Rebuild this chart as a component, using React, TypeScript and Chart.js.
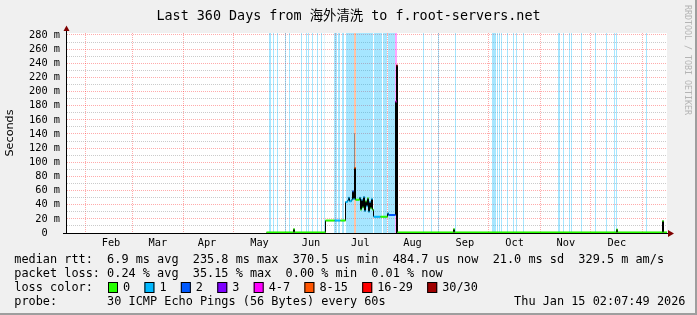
import React, { useEffect, useRef } from 'react';
import { Chart, registerables } from 'chart.js';

Chart.register(...registerables);

// ---------------- data ----------------
const TITLE = 'Last 360 Days from 海外清洗 to f.root-servers.net';
const Y_TITLE = 'Seconds';
const WATERMARK = 'RRDTOOL / TOBI OETIKER';

// x axis: days since start of the 360-day window
const X_MAX_DAYS = 360;
const monthStartDays = [11, 39, 70, 100, 131, 161, 192, 223, 253, 284, 314, 345];
const monthLabels = ['Feb', 'Mar', 'Apr', 'May', 'Jun', 'Jul', 'Aug', 'Sep', 'Oct', 'Nov', 'Dec'];
const monthLabelDays = [26.4, 54.5, 84, 115.5, 146.4, 176, 207.3, 238.7, 268.6, 299.3, 329.9];

// y axis (milliseconds)
const Y_MAX_MS = 282.8;
const yTickValues = [0, 10, 20, 30, 40, 50, 60, 70, 80, 90, 100, 110, 120, 130, 140, 150, 160, 170, 180, 190, 200, 210, 220, 230, 240, 250, 260, 270, 280];

// loss classes
const lossLabels = ['0', '1', '2', '3', '4-7', '8-15', '16-29', '30/30'];
const lossColors = ['#26ff00', '#00b8ff', '#0059ff', '#7e00ff', '#ff00ff', '#ff5500', '#ff0000', '#a00000'];

// loss background stripes (start day, width in days, loss class)
const stripeStart = [121.2, 123.6, 126.0, 130.8, 133.2, 140.4, 143.4, 144.6, 147.0, 150.0, 152.4, 154.2, 160.2, 162.6, 165.0, 167.4, 172.2, 173.4, 184.2, 189.6, 192.6, 196.8, 213.6, 218.4, 222.6, 232.8, 255.0, 258.0, 259.2, 260.4, 264.0, 267.6, 269.4, 273.6, 294.6, 297.6, 301.2, 302.4, 308.4, 316.8, 323.4, 328.2, 329.4, 347.4];
const stripeWidth = [1.2, 0.6, 0.6, 0.6, 0.6, 0.6, 0.6, 0.6, 0.6, 0.6, 0.6, 0.6, 1.8, 1.2, 1.2, 4.8, 1.2, 10.2, 4.8, 2.4, 4.2, 1.2, 0.6, 0.6, 0.6, 0.6, 2.4, 0.6, 0.6, 0.6, 0.6, 0.6, 0.6, 0.6, 1.2, 0.6, 0.6, 0.6, 0.6, 0.6, 0.6, 0.6, 0.6, 0.6];
const stripeLoss = [1, 1, 1, 1, 1, 1, 1, 1, 1, 1, 1, 1, 1, 1, 1, 1, 5, 1, 1, 1, 1, 4, 1, 1, 1, 1, 1, 1, 1, 1, 1, 1, 1, 1, 1, 1, 1, 1, 1, 1, 1, 1, 1, 1];

// median rtt (value holds from this day until the next day)
const rttDay = [119.7, 135.9, 136.5, 155.1, 160.5, 164.1, 167.1, 168.3, 168.9, 169.5, 170.7, 171.3, 171.9, 172.5, 173.1, 175.5, 176.1, 176.7, 177.3, 177.9, 178.5, 179.1, 179.7, 180.3, 180.9, 181.5, 182.1, 182.7, 183.3, 183.9, 188.1, 192.3, 192.9, 197.1, 197.7, 198.3, 231.9, 232.5, 329.7, 330.3, 357.3, 357.9, 360];
const rttMs = [0.8, 5.5, 0.8, 17.5, 17.5, 17.5, 44, 46, 50, 45, 47, 59, 48, 92, 47, 50, 33, 47, 36, 51, 31, 45, 38, 49, 30, 44, 35, 48, 33, 23, 23, 28, 25.5, 186, 237, 0.8, 5.5, 0.8, 5, 0.8, 17, 0.8, 0.8];
const rttLoss = [0, 0, 0, 0, 1, 0, 1, 1, 1, 1, 1, 2, 1, 5, 0, 1, 0, 1, 0, 1, 1, 0, 1, 0, 1, 1, 0, 1, 0, 1, 0, 1, 2, 4, 7, 0, 0, 0, 0, 0, 0, 0, 0];

// smoke (spread of individual pings)
const smokeDay = [172.5, 197.7];
const smokeLow = [92, 0];
const smokeHigh = [141, 237];

// legend text
const statsRtt = 'median rtt:  6.9 ms avg  235.8 ms max  370.5 us min  484.7 us now  21.0 ms sd  329.5 m am/s';
const statsLoss = 'packet loss: 0.24 % avg  35.15 % max  0.00 % min  0.01 % now';
const lossColorLabel = 'loss color:';
const probeLabel = 'probe:';
const probeText = '30 ICMP Echo Pings (56 Bytes) every 60s';
const stampText = 'Thu Jan 15 02:07:49 2026';

// ---------------- styles ----------------
const smokeColors = ['#8a8a8a', '#000000'];
const MGRID = 'rgba(255,0,0,0.33)';
const GRID = 'rgba(140,140,140,0.45)';
const MONO = '"DejaVu Sans Mono", monospace';
const CW = 7.14; // legend char advance
const LX = 14.3; // legend left

function hexToRgba(hex: string, a: number) {
  const n = parseInt(hex.slice(1), 16);
  return `rgba(${(n >> 16) & 255},${(n >> 8) & 255},${n & 255},${a})`;
}

function buildDatasets() {
  const ds: any[] = [];
  // loss stripes
  for (let level = 0; level < lossColors.length; level++) {
    const data: any[] = [];
    stripeStart.forEach((s, i) => {
      if (stripeLoss[i] !== level) return;
      const e = s + stripeWidth[i];
      data.push({ x: s, y: 400 }, { x: e, y: 400 }, { x: e, y: null });
    });
    if (!data.length) continue;
    ds.push({
      data, fill: 'origin', backgroundColor: hexToRgba(lossColors[level], 0.35),
      borderWidth: 0, pointRadius: 0, order: 10, spanGaps: false,
    });
  }
  // smoke
  smokeDay.forEach((d, i) => {
    ds.push({
      data: [{ x: d, y: smokeLow[i] }, { x: d, y: smokeHigh[i] }],
      borderColor: smokeColors[i], borderWidth: 1, pointRadius: 0, fill: false, order: 3,
    });
  });
  // black median stepped line
  ds.push({
    data: rttDay.map((d, i) => ({ x: d, y: rttMs[i] })),
    stepped: true, borderColor: '#000000', borderWidth: 1, pointRadius: 0, fill: false, order: 2,
  });
  // colored horizontal median segments by loss class
  for (let level = 0; level < lossColors.length; level++) {
    const data: any[] = [];
    for (let i = 0; i < rttDay.length - 1; i++) {
      if (rttLoss[i] !== level) continue;
      data.push({ x: rttDay[i], y: rttMs[i] }, { x: rttDay[i + 1], y: rttMs[i] }, { x: rttDay[i + 1], y: null });
    }
    if (!data.length) continue;
    ds.push({
      data, borderColor: lossColors[level], borderWidth: 2, pointRadius: 0, fill: false,
      order: 1, spanGaps: false, borderCapStyle: 'butt',
    });
  }
  return ds;
}

function drawMono(ctx: CanvasRenderingContext2D, s: string, x0: number, y: number) {
  for (let i = 0; i < s.length; i++) {
    const ch = s[i];
    if (ch !== ' ') ctx.fillText(ch, x0 + i * CW, y);
  }
}

const rrdPlugin = {
  id: 'rrdLook',
  beforeDraw(chart: any) {
    const { ctx, width, height, chartArea: a } = chart;
    ctx.save();
    ctx.fillStyle = '#f0f0f0';
    ctx.fillRect(0, 0, width, height);
    ctx.fillStyle = '#9e9e9e';
    ctx.fillRect(0, height - 2, width, 2);
    ctx.fillRect(width - 2, 0, 2, height);
    ctx.fillStyle = '#ffffff';
    ctx.fillRect(a.left, a.top, a.right - a.left, a.bottom - a.top);
    ctx.restore();
  },
  afterDatasetsDraw(chart: any) {
    const { ctx, chartArea: a } = chart;
    ctx.save();
    ctx.fillStyle = '#000000';
    // x axis
    ctx.fillRect(a.left - 4, a.bottom, a.right - a.left + 5, 1);
    // y axis
    ctx.fillRect(a.left - 1, a.top - 3, 1, a.bottom - a.top + 4);
    ctx.fillStyle = '#7f0000';
    ctx.beginPath();
    ctx.moveTo(a.right + 1, a.bottom - 3);
    ctx.lineTo(a.right + 7, a.bottom + 0.5);
    ctx.lineTo(a.right + 1, a.bottom + 4);
    ctx.closePath();
    ctx.fill();
    ctx.beginPath();
    ctx.moveTo(a.left - 3.5, a.top - 2);
    ctx.lineTo(a.left - 0.5, a.top - 7.5);
    ctx.lineTo(a.left + 2.5, a.top - 2);
    ctx.closePath();
    ctx.fill();
    ctx.restore();
  },
  afterDraw(chart: any) {
    const { ctx } = chart;
    ctx.save();
    ctx.fillStyle = '#000000';
    ctx.textBaseline = 'alphabetic';
    // title
    ctx.font = `13.4px ${'"DejaVu Sans Mono", "Noto Sans CJK SC", monospace'}`;
    ctx.textAlign = 'center';
    ctx.fillText(TITLE, 348.5, 20);
    // legend
    ctx.textAlign = 'left';
    ctx.font = `11.86px ${MONO}`;
    drawMono(ctx, statsRtt, LX, 263);
    drawMono(ctx, statsLoss, LX, 277);
    drawMono(ctx, lossColorLabel, LX, 291);
    let x = 108;
    lossLabels.forEach((lab, i) => {
      ctx.fillStyle = lossColors[i];
      ctx.fillRect(x, 282, 10, 11);
      ctx.strokeStyle = '#000000';
      ctx.lineWidth = 1;
      ctx.strokeRect(x + 0.5, 282.5, 9, 10);
      ctx.fillStyle = '#000000';
      drawMono(ctx, lab, x + 15, 291);
      x = x + 15 + (lab.length + 2) * CW;
    });
    drawMono(ctx, probeLabel, LX, 305);
    drawMono(ctx, probeText, LX + 13 * CW, 305);
    drawMono(ctx, stampText, LX + 70 * CW, 305);
    // watermark
    ctx.fillStyle = '#b4b4b4';
    ctx.font = `8.3px ${MONO}`;
    ctx.translate(687.5, 5);
    ctx.rotate(Math.PI / 2);
    ctx.textBaseline = 'middle';
    ctx.fillText(WATERMARK, 0, 0);
    ctx.restore();
  },
};

export default function App() {
  const ref = useRef<HTMLCanvasElement>(null);
  useEffect(() => {
    const canvas = ref.current;
    if (!canvas) return;
    const tickFont = { family: 'DejaVu Sans Mono', size: 10.3 };
    const chart = new Chart(canvas, {
      type: 'line',
      data: { datasets: buildDatasets() },
      options: {
        animation: false,
        responsive: false,
        devicePixelRatio: 1,
        layout: { padding: { left: 0, top: 33, right: 30, bottom: 0 } },
        plugins: { legend: { display: false }, tooltip: { enabled: false }, title: { display: false } },
        elements: { point: { radius: 0 }, line: { tension: 0 } },
        scales: {
          x: {
            type: 'linear', min: 0, max: X_MAX_DAYS, position: 'bottom',
            afterBuildTicks: (scale: any) => {
              const vals = [...monthStartDays, ...monthLabelDays].sort((p, q) => p - q);
              scale.ticks = vals.map((v) => ({ value: v }));
            },
            afterFit: (scale: any) => { scale.height = 82; },
            grid: {
              drawTicks: false,
              lineWidth: 1,
              color: (ctx: any) => (ctx.tick && monthStartDays.includes(ctx.tick.value) ? MGRID : 'rgba(0,0,0,0)'),
            },
            border: { display: false, dash: [1, 1] },
            ticks: {
              autoSkip: false, maxRotation: 0, minRotation: 0, padding: 4, color: '#000000', font: tickFont,
              callback: (value: any) => {
                const i = monthLabelDays.indexOf(Number(value));
                return i >= 0 ? monthLabels[i] : '';
              },
            },
          },
          y: {
            type: 'linear', min: 0, max: Y_MAX_MS, position: 'left',
            afterBuildTicks: (scale: any) => { scale.ticks = yTickValues.map((v) => ({ value: v })); },
            afterFit: (scale: any) => { scale.width = 67; },
            grid: {
              drawTicks: false,
              lineWidth: 1,
              color: (ctx: any) => {
                const v = ctx.tick ? ctx.tick.value : 0;
                if (v === 0) return 'rgba(0,0,0,0)';
                return v % 20 === 0 ? MGRID : GRID;
              },
            },
            border: { display: false, dash: [1, 1] },
            ticks: {
              autoSkip: false, padding: 7, color: '#000000', font: tickFont,
              callback: (value: any) => {
                const v = Number(value);
                if (v === 0) return '0  ';
                return v % 20 === 0 ? `${v} m` : '';
              },
            },
            title: {
              display: true, text: Y_TITLE, color: '#000000',
              font: { family: 'DejaVu Sans', size: 11.2 },
              padding: { top: 3, bottom: 0 },
            },
          },
        },
      } as any,
      plugins: [rrdPlugin],
    });
    return () => chart.destroy();
  }, []);
  return (
    <div style={{ position: 'fixed', left: 0, top: 0, width: 697, height: 315 }}>
      <canvas ref={ref} width={697} height={315} style={{ display: 'block', width: 697, height: 315 }} />
    </div>
  );
}
